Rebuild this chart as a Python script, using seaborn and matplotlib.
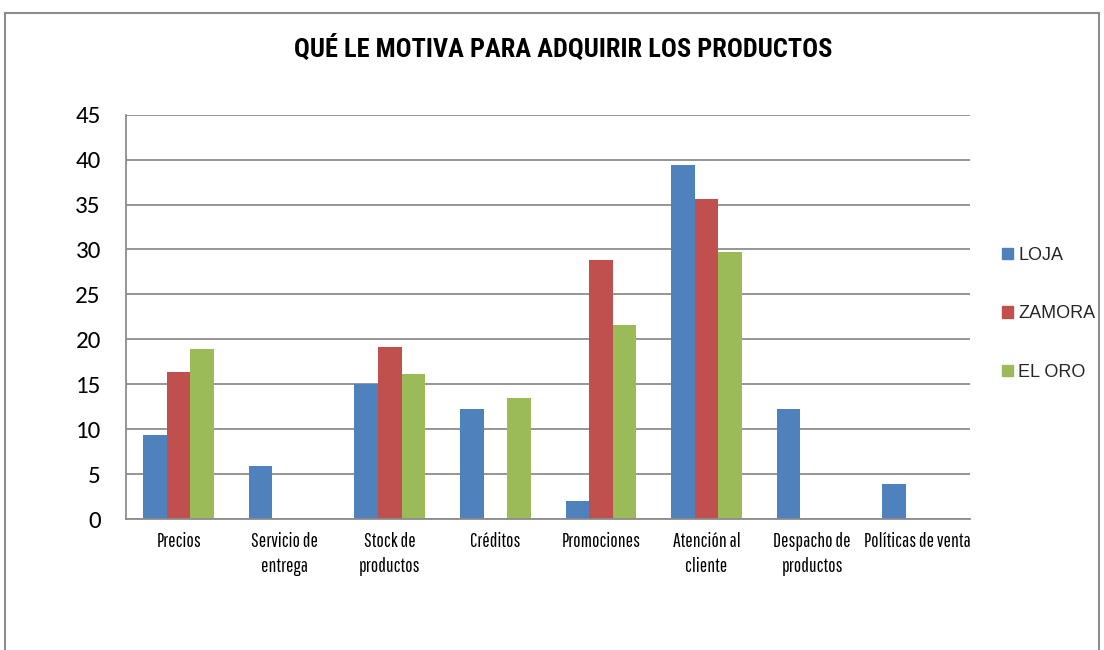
import matplotlib
matplotlib.use("Agg")
import matplotlib.pyplot as plt
import matplotlib.patches as mpatches
import seaborn as sns
import pandas as pd

categories = ["Precios", "Servicio de\nentrega", "Stock de\nproductos", "Créditos",
              "Promociones", "Atención al\ncliente", "Despacho de\nproductos", "Políticas de venta"]
loja = [9.4, 5.9, 15.0, 12.2, 2.0, 39.4, 12.2, 3.9]
zamora = [16.4, 0, 19.2, 0, 28.8, 35.6, 0, 0]
el_oro = [18.9, 0, 16.1, 13.5, 21.6, 29.7, 0, 0]
series_names = ["LOJA", "ZAMORA", "EL ORO"]
colors = ["#4F81BD", "#C0504D", "#9BBB59"]
y_ticks = [0, 5, 10, 15, 20, 25, 30, 35, 40, 45]

rows = []
for name, vals in zip(series_names, [loja, zamora, el_oro]):
    for cat, v in zip(categories, vals):
        rows.append({"categoria": cat, "provincia": name, "valor": v})
df = pd.DataFrame(rows)

sns.set_theme(style="white")
plt.rcParams["font.family"] = ["Liberation Sans", "DejaVu Sans"]

fig = plt.figure(figsize=(11.04, 6.5), dpi=100)
ax = fig.add_axes([0.114, 0.2015, 0.765, 0.622])

sns.barplot(data=df, x="categoria", y="valor", hue="provincia", order=categories,
            hue_order=series_names, palette=colors, width=0.67, saturation=1,
            linewidth=0, ax=ax, legend=False)

ax.set_ylim(0, 45)
ax.set_yticks(y_ticks)
ax.set_yticklabels([str(t) for t in y_ticks], fontsize=18, family=["Carlito", "DejaVu Sans"],
                   color="black")
ax.set_xlim(-0.5, len(categories) - 0.5)
ax.set_xticks(range(len(categories)))
ax.set_xticklabels(categories, fontsize=14, family=["Pathway Gothic One", "DejaVu Sans"],
                   linespacing=1.4, color="black")
ax.tick_params(axis="x", length=0, pad=9)
ax.tick_params(axis="y", length=0, pad=18)
ax.set_xlabel("")
ax.set_ylabel("")
ax.grid(axis="y", color="#8C8C8C", linewidth=1.3)
ax.set_axisbelow(True)
for s in ["top", "right"]:
    ax.spines[s].set_visible(False)
for s in ["left", "bottom"]:
    ax.spines[s].set_color("#8C8C8C")
    ax.spines[s].set_linewidth(1.3)

fig.text(0.51, 0.925, "QUÉ LE MOTIVA PARA ADQUIRIR LOS PRODUCTOS", ha="center", va="center",
         fontsize=19, fontweight="bold", color="black",
         family=["Roboto Condensed", "DejaVu Sans"])

handles = [mpatches.Patch(color=c, label=n) for c, n in zip(colors, series_names)]
fig.legend(handles=handles, loc="center left", bbox_to_anchor=(0.893, 0.517), frameon=False,
           handlelength=0.6, handleheight=0.6, handletextpad=0.3, labelspacing=2.3,
           prop={"family": ["Liberation Sans", "DejaVu Sans"], "size": 13})

border = mpatches.Rectangle((5 / 1104, -0.1), 1094 / 1104, 1.1 - 13 / 650, transform=fig.transFigure,
                            fill=False, edgecolor="#8C8C8C", linewidth=1.5)
fig.patches.append(border)

fig.savefig("out.png", dpi=100)
